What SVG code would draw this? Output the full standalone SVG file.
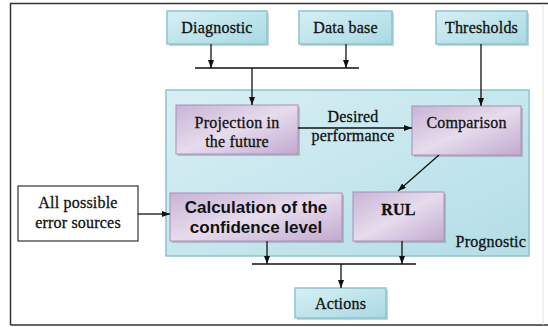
<svg xmlns="http://www.w3.org/2000/svg" width="548" height="327" viewBox="0 0 548 327">
<defs>
<linearGradient id="cyan" x1="0" y1="0" x2="1" y2="1">
<stop offset="0" stop-color="#d6f0f4"/><stop offset="1" stop-color="#a9d9e3"/>
</linearGradient>
<linearGradient id="cont" x1="0" y1="0" x2="1" y2="1">
<stop offset="0" stop-color="#d8eff4"/><stop offset="0.5" stop-color="#c6e7ee"/><stop offset="1" stop-color="#b3dde6"/>
</linearGradient>
<linearGradient id="purp" x1="0" y1="0" x2="1" y2="1">
<stop offset="0" stop-color="#c9b3d6"/><stop offset="0.5" stop-color="#e6dcec"/><stop offset="1" stop-color="#c2a9d0"/>
</linearGradient>
<marker id="ah" markerWidth="8" markerHeight="6" refX="8" refY="3" orient="auto" markerUnits="userSpaceOnUse">
<path d="M0,0 L8,3 L0,6 z" fill="#111"/>
</marker>
</defs>
<style>
.top{fill:url(#cyan);stroke:#8cc4d0;stroke-width:1.5}
.inner{fill:url(#purp);stroke:#a68fb8;stroke-width:1}
.shadow{fill:#9a8aa6;opacity:0.5}
.tshadow{fill:#7fb0bc;opacity:0.5}
.t{font-family:"Liberation Serif",serif;font-size:16px;fill:#111;stroke:#111;stroke-width:0.3;text-anchor:middle;letter-spacing:0.2px}
.b{font-family:"Liberation Sans",sans-serif;font-size:17px;font-weight:bold;fill:#111;text-anchor:middle}
.ln{stroke:#111;stroke-width:1.3;fill:none}
.ar{stroke:#111;stroke-width:1.3;fill:none;marker-end:url(#ah)}
</style>
<rect x="0" y="0" width="548" height="327" fill="#fff"/>
<g id="frame">
<path d="M10.5,325 V3.5 H548" fill="none" stroke="#333" stroke-width="1.5"/>
<path d="M10.5,325 H548" fill="none" stroke="#333" stroke-width="1.5"/>
<path d="M543,4 V325" fill="none" stroke="#e4e4e4" stroke-width="1"/>
</g>
<g id="prognostic">
<rect x="166" y="90" width="363" height="166" fill="url(#cont)" stroke="#8cc4d0" stroke-width="1.5"/>
<text class="t" x="526" y="247" style="text-anchor:end">Prognostic</text>
</g>
<g id="diagnostic">
<rect class="tshadow" x="169" y="13" width="100" height="33"/>
<rect class="top" x="167" y="11" width="100" height="33"/>
<text class="t" x="217" y="33">Diagnostic</text>
</g>
<g id="database">
<rect class="tshadow" x="301" y="13" width="93" height="33"/>
<rect class="top" x="299" y="11" width="93" height="33"/>
<text class="t" x="345.5" y="33">Data base</text>
</g>
<g id="thresholds">
<rect class="tshadow" x="438" y="13" width="91" height="33"/>
<rect class="top" x="436" y="11" width="91" height="33"/>
<text class="t" x="481.5" y="33">Thresholds</text>
</g>
<g id="projection">
<rect class="shadow" x="178" y="107" width="122" height="49"/>
<rect class="inner" x="176" y="105" width="122" height="49"/>
<text class="t" x="237" y="128">Projection in</text>
<text class="t" x="237" y="147">the future</text>
</g>
<g id="comparison">
<rect class="shadow" x="414" y="108" width="109" height="49"/>
<rect class="inner" x="412" y="106" width="109" height="49"/>
<text class="t" x="466.5" y="128">Comparison</text>
</g>
<g id="calculation">
<rect class="shadow" x="172" y="195" width="172" height="48"/>
<rect class="inner" x="170" y="193" width="172" height="48"/>
<text class="b" x="256" y="213">Calculation of the</text>
<text class="b" x="256" y="233">confidence level</text>
</g>
<g id="rul">
<rect class="shadow" x="355" y="194" width="91" height="49"/>
<rect class="inner" x="353" y="192" width="91" height="49"/>
<text class="t" x="398.5" y="215" style="font-weight:bold">RUL</text>
</g>
<g id="errors">
<rect x="18" y="186" width="120" height="55" fill="#fff" stroke="#333" stroke-width="1.2"/>
<text class="t" x="78" y="208">All possible</text>
<text class="t" x="78" y="228">error sources</text>
</g>
<g id="actions">
<rect class="tshadow" x="297" y="290" width="91" height="30"/>
<rect class="top" x="295" y="288" width="91" height="30"/>
<text class="t" x="340.5" y="309">Actions</text>
</g>
<g id="connectors">
<path class="ar" d="M211,44 V68"/>
<path class="ar" d="M346,44 V68"/>
<path class="ln" d="M195,68 H359"/>
<path class="ar" d="M252,68 V105"/>
<path class="ar" d="M481,44 V106"/>
<path class="ar" d="M298,128 H412"/>
<path class="ar" d="M439,155 L398,191"/>
<path class="ar" d="M138,214 H170"/>
<path class="ar" d="M267,241 V264"/>
<path class="ar" d="M402,241 V264"/>
<path class="ln" d="M252,264 H416"/>
<path class="ar" d="M341,264 V288"/>
<text class="t" x="353" y="122">Desired</text>
<text class="t" x="353" y="141">performance</text>
</g>
</svg>
